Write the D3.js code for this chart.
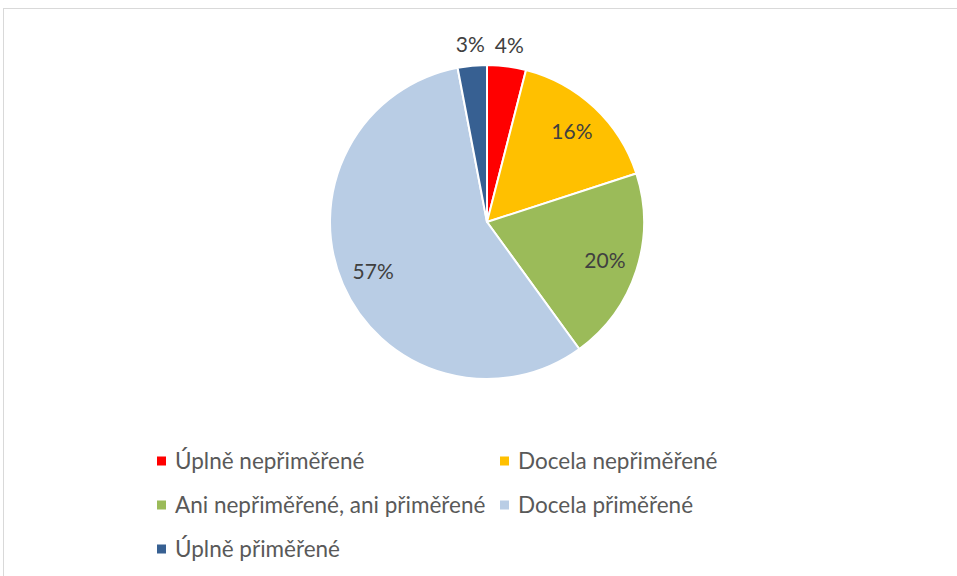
<!DOCTYPE html>
<meta charset="utf-8">
<style>
body { margin: 0; background: #fff; }
.label { font: 21px Lato, sans-serif; fill: #404040; text-anchor: middle; }
.legend text { font: 22.5px Lato, sans-serif; fill: #595959; }
</style>
<svg width="957" height="576"></svg>
<script src="https://cdn.jsdelivr.net/npm/d3@7"></script>
<script>

var categories = ["Úplně nepřiměřené", "Docela nepřiměřené", "Ani nepřiměřené, ani přiměřené", "Docela přiměřené", "Úplně přiměřené"],
    values = [4, 16, 20, 57, 3],
    colors = ["#ff0000", "#ffc000", "#9bbb59", "#b9cde5", "#376092"];

var svg = d3.select("svg"),
    width = +svg.attr("width"),
    height = +svg.attr("height");

// chart frame, cut by the window on the right and bottom
svg.append("rect")
    .attr("x", 3.5)
    .attr("y", 8.5)
    .attr("width", width + 10)
    .attr("height", height + 10)
    .attr("fill", "none")
    .attr("stroke", "#d9d9d9");

var cx = 487, cy = 222, radius = 157;

var data = categories.map(function(c, i) { return {name: c, value: values[i], color: colors[i]}; });

var pie = d3.pie()
    .sort(null)
    .value(function(d) { return d.value; });

var arc = d3.arc().innerRadius(0).outerRadius(radius),
    labelArc = d3.arc().innerRadius(124).outerRadius(124),
    outerArc = d3.arc().innerRadius(178).outerRadius(178);

var g = svg.append("g")
    .attr("transform", "translate(" + cx + "," + cy + ")");

var arcs = pie(data);

g.selectAll("path")
    .data(arcs)
  .enter().append("path")
    .attr("d", arc)
    .attr("fill", function(d) { return d.data.color; })
    .attr("stroke", "#fff")
    .attr("stroke-width", 2)
    .attr("stroke-linejoin", "round");

g.selectAll(".label")
    .data(arcs)
  .enter().append("text")
    .attr("class", "label")
    .attr("transform", function(d) {
      var p = (d.data.value < 5 ? outerArc : labelArc).centroid(d);
      return "translate(" + p + ")";
    })
    .attr("dy", ".35em")
    .text(function(d) { return d.data.value + "%"; });

// legend: two columns, three rows
var legend = svg.append("g")
    .attr("class", "legend")
  .selectAll("g")
    .data(data)
  .enter().append("g")
    .attr("transform", function(d, i) {
      return "translate(" + (157 + (i % 2) * 343) + "," + (461 + Math.floor(i / 2) * 44) + ")";
    });

legend.append("rect")
    .attr("y", -4.5)
    .attr("width", 9)
    .attr("height", 9)
    .attr("fill", function(d) { return d.color; });

legend.append("text")
    .attr("x", 18)
    .attr("dy", ".35em")
    .text(function(d) { return d.name; });

</script>
